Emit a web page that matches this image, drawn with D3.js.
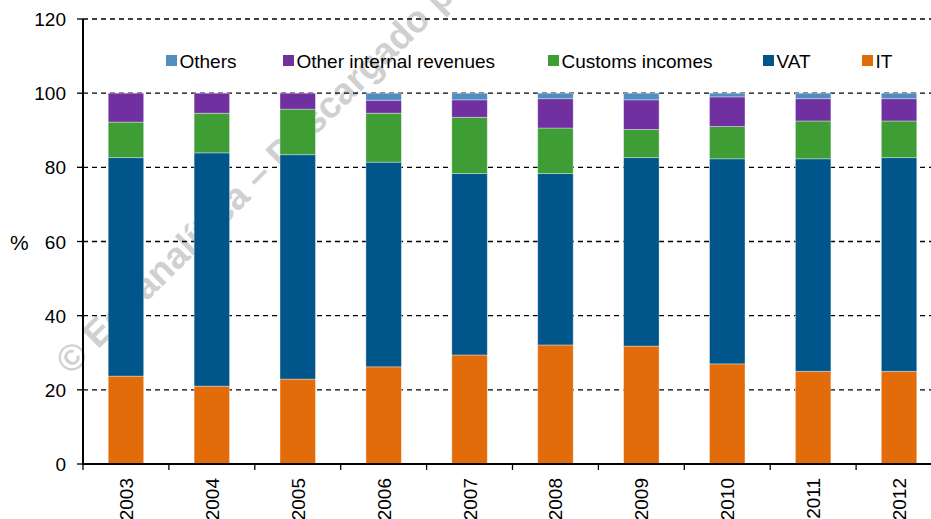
<!DOCTYPE html>
<html>
<head>
<meta charset="utf-8">
<script src="https://cdnjs.cloudflare.com/ajax/libs/d3/7.8.5/d3.min.js"></script>
<style>
  html, body { margin: 0; padding: 0; background: #fff; }
  svg { display: block; font-family: "Liberation Sans", Arial, sans-serif; }
</style>
</head>
<body>
<div id="app"></div>
<script>
`use strict`;

const Years = [`2003`, `2004`, `2005`, `2006`, `2007`, `2008`, `2009`, `2010`, `2011`, `2012`];

// stacked bottom -> top
const IT = [23.7, 21.0, 22.9, 26.2, 29.4, 32.1, 31.8, 27.0, 25.0, 25.0];
const VAT = [58.9, 62.9, 60.5, 55.2, 48.9, 46.2, 50.8, 55.3, 57.3, 57.6];
const Customs = [9.6, 10.7, 12.3, 13.2, 15.2, 12.3, 7.6, 8.7, 10.2, 9.9];
const OtherInternal = [7.8, 5.4, 4.3, 3.5, 4.7, 7.9, 8.0, 8.0, 6.0, 6.0];
const Others = [0, 0, 0, 1.9, 1.8, 1.5, 1.8, 1.0, 1.5, 1.5];

const SeriesNames = [`IT`, `VAT`, `Customs incomes`, `Other internal revenues`, `Others`];
const YTicks = [0, 20, 40, 60, 80, 100, 120];

const W = 931, H = 519;
const Colors = [`#e36c0a`, `#00558a`, `#3f9d36`, `#7030a0`, `#4f8ebf`];

let SVG = d3.select(`#app`).append(`svg`).attr(`width`, W).attr(`height`, H);

let x = d3.scaleBand().domain(Years).range([83, 942]).padding(0);
let y = d3.scaleLinear().domain([0, 120]).range([464, 19]);

/* watermark, sits behind the bars */
SVG.append(`text`)
  .attr(`transform`, `translate(71,376) rotate(-44.5)`)
  .attr(`font-size`, `37px`)
  .attr(`font-weight`, `bold`)
  .attr(`fill`, `#d0d0d0`)
  .text(`© Ecoanalítica – Descargado por`);

/* grid */
SVG.append(`g`).selectAll(`line`).data(YTicks.filter(d => d > 0)).enter().append(`line`)
  .attr(`x1`, 83).attr(`x2`, W)
  .attr(`y1`, d => y(d)).attr(`y2`, d => y(d))
  .attr(`stroke`, `#000`).attr(`stroke-width`, 1.3).attr(`stroke-dasharray`, `5,4`);

/* bars */
let Table = Years.map((yr, i) => ({ yr, s0: IT[i], s1: VAT[i], s2: Customs[i], s3: OtherInternal[i], s4: Others[i] }));
let Stack = d3.stack().keys([`s0`, `s1`, `s2`, `s3`, `s4`])(Table);

let barW = x.bandwidth() * 0.413;

SVG.append(`g`).selectAll(`g`).data(Stack).enter().append(`g`)
  .attr(`fill`, (d, i) => Colors[i])
  .selectAll(`rect`).data(d => d.filter(p => p[1] - p[0] > 0)).enter().append(`rect`)
  .attr(`x`, d => x(d.data.yr) + (x.bandwidth() - barW) / 2)
  .attr(`width`, barW)
  .attr(`y`, d => y(d[1]))
  .attr(`height`, d => y(d[0]) - y(d[1]))
  .attr(`stroke`, `rgba(255,255,255,0.45)`).attr(`stroke-width`, 0.8);

/* axes */
let Axes = SVG.append(`g`);

Axes.append(`line`).attr(`x1`, 83).attr(`x2`, 83).attr(`y1`, y(120)).attr(`y2`, y(0) + 1)
  .attr(`stroke`, `#000`).attr(`stroke-width`, 2);

Axes.append(`line`).attr(`x1`, 82).attr(`x2`, W).attr(`y1`, y(0)).attr(`y2`, y(0))
  .attr(`stroke`, `#000`).attr(`stroke-width`, 2);

Axes.selectAll(`line.yt`).data(YTicks).enter().append(`line`).attr(`class`, `yt`)
  .attr(`x1`, 77).attr(`x2`, 83).attr(`y1`, d => y(d)).attr(`y2`, d => y(d))
  .attr(`stroke`, `#000`).attr(`stroke-width`, 1.3);

Axes.selectAll(`text.yl`).data(YTicks).enter().append(`text`).attr(`class`, `yl`)
  .attr(`x`, 66).attr(`y`, d => y(d) + 7)
  .attr(`text-anchor`, `end`).attr(`font-size`, `19px`).attr(`fill`, `#000`)
  .text(d => d);

Axes.selectAll(`line.xt`).data(Years).enter().append(`line`).attr(`class`, `xt`)
  .attr(`x1`, d => x(d)).attr(`x2`, d => x(d)).attr(`y1`, y(0)).attr(`y2`, y(0) + 6)
  .attr(`stroke`, `#000`).attr(`stroke-width`, 1.3);

Axes.selectAll(`text.xl`).data(Years).enter().append(`text`).attr(`class`, `xl`)
  .attr(`transform`, d => `translate(${x(d) + x.bandwidth() / 2 + 7},478) rotate(-90)`)
  .attr(`text-anchor`, `end`).attr(`font-size`, `19px`).attr(`fill`, `#000`)
  .text(d => d);

SVG.append(`text`).attr(`x`, 10).attr(`y`, 250)
  .attr(`font-size`, `21px`).attr(`fill`, `#000`).text(`%`);

/* legend */
const LegendX = [166, 283, 548, 763, 862];
const LegendOrder = [4, 3, 2, 1, 0];

let Legend = SVG.append(`g`).selectAll(`g`).data(LegendOrder).enter().append(`g`)
  .attr(`transform`, (d, i) => `translate(${LegendX[i]},55)`);

Legend.append(`rect`).attr(`width`, 11).attr(`height`, 11).attr(`fill`, d => Colors[d]);

Legend.append(`text`).attr(`x`, 13.5).attr(`y`, 12.5)
  .attr(`font-size`, `19px`).attr(`fill`, `#000`)
  .text(d => SeriesNames[d]);
</script>
</body>
</html>
